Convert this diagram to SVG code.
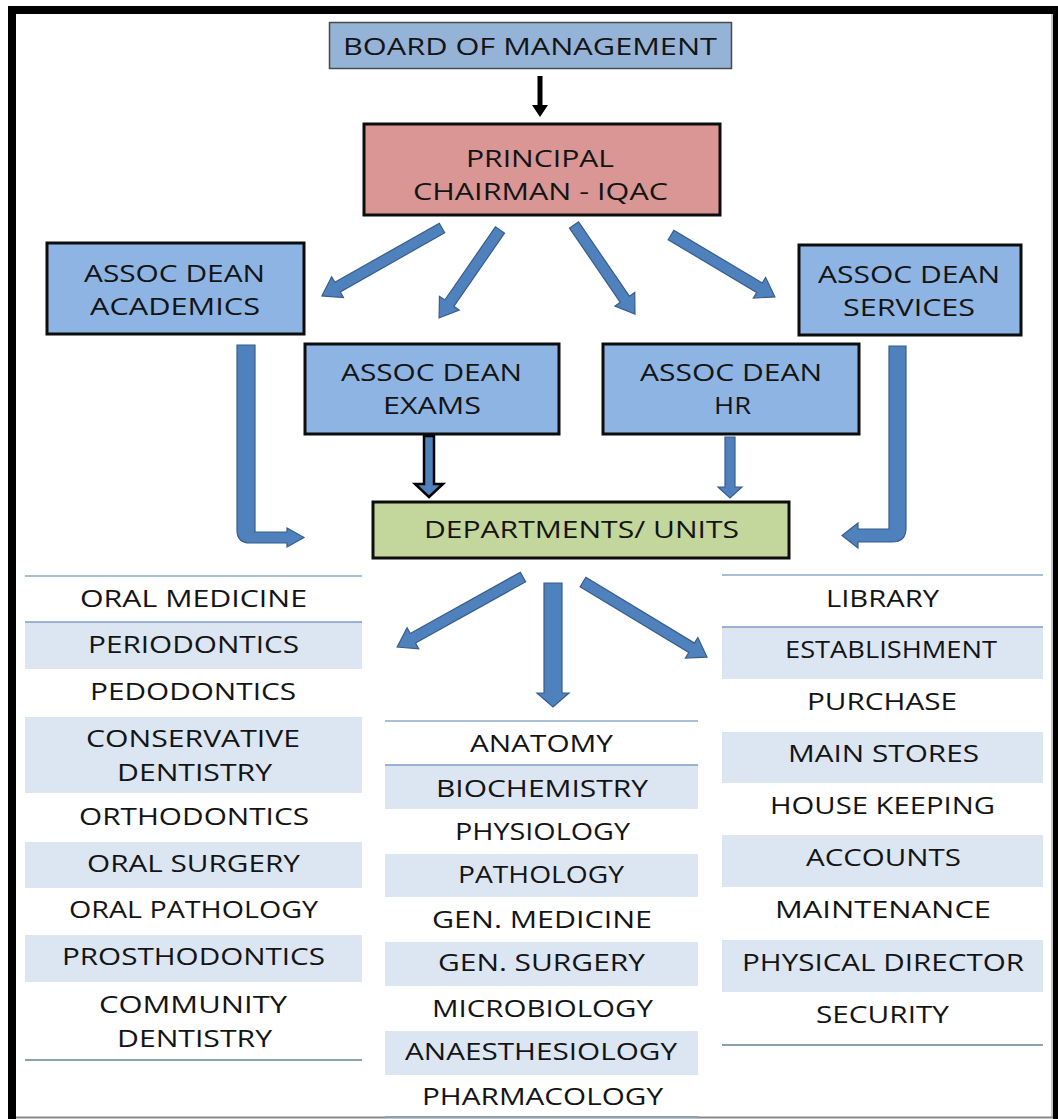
<svg xmlns="http://www.w3.org/2000/svg" width="1058" height="1119" viewBox="0 0 1058 1119">
  <style>
    text { font-family: "Open Sans", "Liberation Sans", sans-serif; fill: #141414; }
    .bt { font-size: 24px; }
    .tt { font-size: 23px; }
    .box { fill: #8eb4e3; stroke: #0d0d0d; stroke-width: 3; }
    .arr { fill: #4f81bd; stroke: #385d8a; stroke-width: 1.2; }
    .shade { fill: #dce6f2; }
    .rule { stroke: #a9bfd8; stroke-width: 2; }
    .rule2 { stroke: #7f9cc4; stroke-width: 1.5; }
    .rule3 { stroke: #8e9fae; stroke-width: 2; }
  </style>
  <defs>
    <!-- straight block arrow along +x, 100 units long; scaled per use -->
  </defs>

  <rect x="0" y="0" width="1058" height="1119" fill="#ffffff"/>

  <!-- outer frame -->
  <g id="frame">
    <rect x="8" y="6" width="1050" height="8" fill="#000"/>
    <rect x="8" y="6" width="8" height="1113" fill="#000"/>
    <rect x="1053" y="6" width="5" height="1113" fill="#000"/>
    <line x1="1052" y1="14" x2="1052" y2="1117" stroke="#888" stroke-width="1"/>
    <line x1="16" y1="1117.5" x2="1053" y2="1117.5" stroke="#888" stroke-width="2"/>
  </g>

  <!-- connectors -->
  <g id="connectors">
    <!-- board to principal -->
    <polygon points="537.5,76 542.5,76 542.5,105 548,105 540,117 532,105 537.5,105" fill="#000"/>
    <!-- principal to deans -->
    <path class="arr" transform="translate(442,228) rotate(150.5)" d="M0,-5.5 L120,-5.5 L120,-12 L138,0 L120,12 L120,5.5 L0,5.5 Z"/>
    <path class="arr" transform="translate(500,230) rotate(124.7)" d="M0,-5.5 L89,-5.5 L89,-12 L107,0 L89,12 L89,5.5 L0,5.5 Z"/>
    <path class="arr" transform="translate(574,225) rotate(55.6)" d="M0,-5.5 L90,-5.5 L90,-12 L108,0 L90,12 L90,5.5 L0,5.5 Z"/>
    <path class="arr" transform="translate(671,235) rotate(30.8)" d="M0,-5.5 L103,-5.5 L103,-12 L121,0 L103,12 L103,5.5 L0,5.5 Z"/>
    <!-- deans to departments -->
    <polygon points="424,436 434,436 434,484 443,484 429,497 415,484 424,484" fill="#4f81bd" stroke="#000" stroke-width="2.5" stroke-linejoin="miter"/>
    <polygon class="arr" points="725,437 735,437 735,487 742,487 730,498 718,487 725,487"/>
    <path class="arr" d="M237,345 L255,345 L255,532 L287,532 L287,528 L304,537.5 L287,547 L287,543 L250,543 Q237,543 237,530 Z"/>
    <path class="arr" d="M889,346 L906,346 L906,528 Q906,542 892,542 L858,542 L858,548 L842,535.5 L858,523 L858,529 L889,529 Z"/>
    <!-- departments to unit lists -->
    <path class="arr" transform="translate(523,577) rotate(150.9)" d="M0,-5.5 L126,-5.5 L126,-12 L144,0 L126,12 L126,5.5 L0,5.5 Z"/>
    <polygon class="arr" points="544,583 562,583 562,693 569,693 553,707 537,693 544,693"/>
    <path class="arr" transform="translate(583,582) rotate(31.2)" d="M0,-5.5 L127,-5.5 L127,-12 L145,0 L127,12 L127,5.5 L0,5.5 Z"/>
  </g>

  <g id="board">
    <rect x="329.5" y="22.5" width="402" height="46" fill="#95b3d7" stroke="#4a4a4a" stroke-width="1.5"/>
    <text class="bt" x="343" y="55" textLength="374" lengthAdjust="spacingAndGlyphs">BOARD OF MANAGEMENT</text>
  </g>

  <g id="principal">
    <rect x="364" y="124" width="356" height="91" fill="#d99694" stroke="#0d0d0d" stroke-width="3"/>
    <text class="bt" x="466" y="167" textLength="148" lengthAdjust="spacingAndGlyphs">PRINCIPAL</text>
    <text class="bt" x="413" y="200" textLength="255" lengthAdjust="spacingAndGlyphs">CHAIRMAN - IQAC</text>
  </g>

  <g id="dean-academics">
    <rect class="box" x="47" y="243" width="257" height="91"/>
    <text class="bt" x="84" y="282" textLength="181" lengthAdjust="spacingAndGlyphs">ASSOC DEAN</text>
    <text class="bt" x="90" y="315" textLength="170" lengthAdjust="spacingAndGlyphs">ACADEMICS</text>
  </g>

  <g id="dean-services">
    <rect class="box" x="799" y="245" width="222" height="90"/>
    <text class="bt" x="818" y="283" textLength="182" lengthAdjust="spacingAndGlyphs">ASSOC DEAN</text>
    <text class="bt" x="843" y="316" textLength="132" lengthAdjust="spacingAndGlyphs">SERVICES</text>
  </g>

  <g id="dean-exams">
    <rect class="box" x="305" y="344" width="254" height="90"/>
    <text class="bt" x="341" y="381" textLength="181" lengthAdjust="spacingAndGlyphs">ASSOC DEAN</text>
    <text class="bt" x="383" y="414" textLength="98" lengthAdjust="spacingAndGlyphs">EXAMS</text>
  </g>

  <g id="dean-hr">
    <rect class="box" x="603" y="344" width="256" height="90"/>
    <text class="bt" x="640" y="381" textLength="182" lengthAdjust="spacingAndGlyphs">ASSOC DEAN</text>
    <text class="bt" x="714" y="414" textLength="37" lengthAdjust="spacingAndGlyphs">HR</text>
  </g>

  <g id="departments">
    <rect x="373" y="502" width="416" height="56" fill="#c3d69b" stroke="#0d0d0d" stroke-width="3"/>
    <text class="bt" x="424" y="538" textLength="315" lengthAdjust="spacingAndGlyphs">DEPARTMENTS/ UNITS</text>
  </g>

  <!-- clinical departments -->
  <g id="list-clinical">
    <rect class="shade" x="25" y="622" width="337" height="47"/>
    <rect class="shade" x="25" y="717" width="337" height="76"/>
    <rect class="shade" x="25" y="842" width="337" height="46"/>
    <rect class="shade" x="25" y="935" width="337" height="47"/>
    <line class="rule" x1="25" y1="576" x2="362" y2="576"/>
    <line class="rule2" x1="25" y1="622" x2="362" y2="622"/>
    <line class="rule3" x1="25" y1="1060" x2="362" y2="1060"/>
    <text class="tt" x="80" y="607" textLength="227" lengthAdjust="spacingAndGlyphs">ORAL MEDICINE</text>
    <text class="tt" x="88" y="653" textLength="211" lengthAdjust="spacingAndGlyphs">PERIODONTICS</text>
    <text class="tt" x="90" y="700" textLength="206" lengthAdjust="spacingAndGlyphs">PEDODONTICS</text>
    <text class="tt" x="86" y="747" textLength="214" lengthAdjust="spacingAndGlyphs">CONSERVATIVE</text>
    <text class="tt" x="117" y="781" textLength="155" lengthAdjust="spacingAndGlyphs">DENTISTRY</text>
    <text class="tt" x="79" y="825" textLength="230" lengthAdjust="spacingAndGlyphs">ORTHODONTICS</text>
    <text class="tt" x="87" y="872" textLength="213" lengthAdjust="spacingAndGlyphs">ORAL SURGERY</text>
    <text class="tt" x="69" y="918" textLength="249" lengthAdjust="spacingAndGlyphs">ORAL PATHOLOGY</text>
    <text class="tt" x="62" y="965" textLength="263" lengthAdjust="spacingAndGlyphs">PROSTHODONTICS</text>
    <text class="tt" x="99" y="1013" textLength="188" lengthAdjust="spacingAndGlyphs">COMMUNITY</text>
    <text class="tt" x="117" y="1047" textLength="155" lengthAdjust="spacingAndGlyphs">DENTISTRY</text>
  </g>

  <!-- medical subjects -->
  <g id="list-medical">
    <rect class="shade" x="385" y="765" width="313" height="44"/>
    <rect class="shade" x="385" y="854" width="313" height="43"/>
    <rect class="shade" x="385" y="942" width="313" height="44"/>
    <rect class="shade" x="385" y="1031" width="313" height="44"/>
    <line class="rule" x1="385" y1="721" x2="698" y2="721"/>
    <line class="rule2" x1="385" y1="765" x2="698" y2="765"/>
    <line class="rule3" x1="385" y1="1117" x2="698" y2="1117"/>
    <text class="tt" x="470" y="752" textLength="143" lengthAdjust="spacingAndGlyphs">ANATOMY</text>
    <text class="tt" x="436" y="797" textLength="212" lengthAdjust="spacingAndGlyphs">BIOCHEMISTRY</text>
    <text class="tt" x="455" y="840" textLength="175" lengthAdjust="spacingAndGlyphs">PHYSIOLOGY</text>
    <text class="tt" x="458" y="883" textLength="166" lengthAdjust="spacingAndGlyphs">PATHOLOGY</text>
    <text class="tt" x="432" y="928" textLength="220" lengthAdjust="spacingAndGlyphs">GEN. MEDICINE</text>
    <text class="tt" x="438" y="971" textLength="207" lengthAdjust="spacingAndGlyphs">GEN. SURGERY</text>
    <text class="tt" x="432" y="1017" textLength="221" lengthAdjust="spacingAndGlyphs">MICROBIOLOGY</text>
    <text class="tt" x="405" y="1060" textLength="272" lengthAdjust="spacingAndGlyphs">ANAESTHESIOLOGY</text>
    <text class="tt" x="422" y="1105" textLength="241" lengthAdjust="spacingAndGlyphs">PHARMACOLOGY</text>
  </g>

  <!-- service units -->
  <g id="list-services">
    <rect class="shade" x="722" y="627" width="321" height="52"/>
    <rect class="shade" x="722" y="732" width="321" height="51"/>
    <rect class="shade" x="722" y="835" width="321" height="52"/>
    <rect class="shade" x="722" y="940" width="321" height="52"/>
    <line class="rule" x1="722" y1="575" x2="1043" y2="575"/>
    <line class="rule2" x1="722" y1="627" x2="1043" y2="627"/>
    <line class="rule3" x1="722" y1="1045" x2="1043" y2="1045"/>
    <text class="tt" x="826" y="607" textLength="113" lengthAdjust="spacingAndGlyphs">LIBRARY</text>
    <text class="tt" x="785" y="658" textLength="212" lengthAdjust="spacingAndGlyphs">ESTABLISHMENT</text>
    <text class="tt" x="807" y="710" textLength="150" lengthAdjust="spacingAndGlyphs">PURCHASE</text>
    <text class="tt" x="788" y="762" textLength="191" lengthAdjust="spacingAndGlyphs">MAIN STORES</text>
    <text class="tt" x="770" y="814" textLength="225" lengthAdjust="spacingAndGlyphs">HOUSE KEEPING</text>
    <text class="tt" x="806" y="866" textLength="155" lengthAdjust="spacingAndGlyphs">ACCOUNTS</text>
    <text class="tt" x="775" y="918" textLength="216" lengthAdjust="spacingAndGlyphs">MAINTENANCE</text>
    <text class="tt" x="742" y="971" textLength="282" lengthAdjust="spacingAndGlyphs">PHYSICAL DIRECTOR</text>
    <text class="tt" x="816" y="1023" textLength="133" lengthAdjust="spacingAndGlyphs">SECURITY</text>
  </g>
</svg>
